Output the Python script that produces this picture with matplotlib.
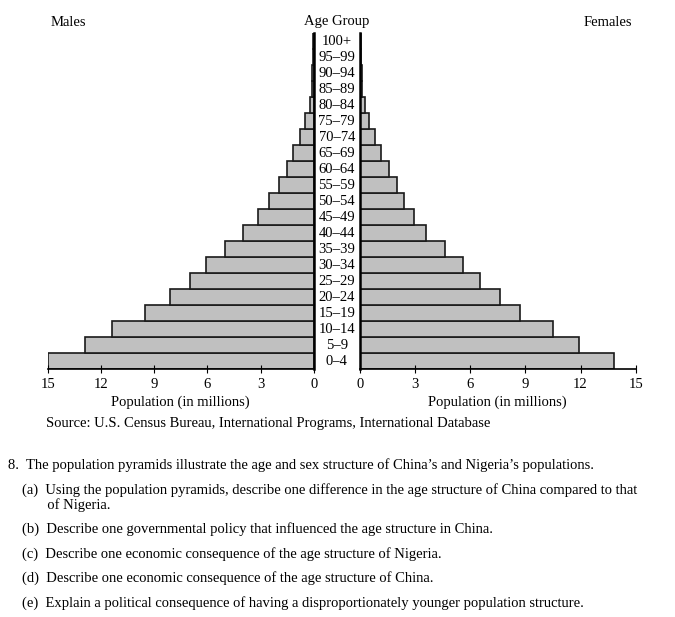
import matplotlib.pyplot as plt
from matplotlib.transforms import blended_transform_factory

plt.rcParams['font.family'] = ['Liberation Serif', 'DejaVu Serif']

# data (millions), youngest first
age_groups = ['0–4', '5–9', '10–14', '15–19', '20–24', '25–29', '30–34',
              '35–39', '40–44', '45–49', '50–54', '55–59', '60–64', '65–69',
              '70–74', '75–79', '80–84', '85–89', '90–94', '95–99', '100+']
males = [15.0, 12.9, 11.4, 9.5, 8.1, 7.0, 6.05, 5.0, 4.0, 3.15, 2.5, 1.95,
         1.5, 1.15, 0.76, 0.47, 0.21, 0.11, 0.08, 0.06, 0.03]
females = [13.8, 11.9, 10.5, 8.7, 7.6, 6.55, 5.6, 4.65, 3.6, 2.95, 2.4, 2.0,
           1.6, 1.15, 0.82, 0.52, 0.29, 0.12, 0.1, 0.08, 0.05]
ticks = [0, 3, 6, 9, 12, 15]

W, H = 675, 617
fig = plt.figure(figsize=(W / 100, H / 100), dpi=100)

def px_axes(x0, y0, x1, y1):
    return fig.add_axes([x0 / W, 1 - y1 / H, (x1 - x0) / W, (y1 - y0) / H])

ax_l = px_axes(47.7, 33.3, 313.7, 369.3)
ax_r = px_axes(359.7, 33.3, 635.7, 369.3)

ypos = list(range(len(age_groups)))
bar_kw = dict(height=1.0, color='#c0c0c0', edgecolor='#1a1a1a', linewidth=1.2)
ax_l.barh(ypos, males, **bar_kw)
ax_r.barh(ypos, females, **bar_kw)

ax_l.set_xlim(15, 0)
ax_r.set_xlim(0, 15)
for ax in (ax_l, ax_r):
    ax.set_ylim(-0.5, len(age_groups) - 0.5)
    ax.set_yticks([])
    ax.set_xticks(ticks)
    ax.tick_params(axis='x', direction='inout', length=6, width=0.8,
                   labelsize=10.5, pad=3.5)
    ax.spines['top'].set_visible(False)
    ax.set_xlabel('Population (in millions)', fontsize=10.5, labelpad=3)
    ax.patch.set_alpha(0)

ax_l.spines['left'].set_visible(False)
ax_l.spines['right'].set_linewidth(1.8)
ax_l.spines['bottom'].set_linewidth(1.2)
ax_r.spines['right'].set_visible(False)
ax_r.spines['left'].set_linewidth(1.8)
ax_r.spines['bottom'].set_linewidth(1.2)

# age labels in the gap between the two halves
tr = blended_transform_factory(fig.transFigure, ax_l.transData)
for y, lab in zip(ypos, age_groups):
    ax_l.text(336.7 / W, y, lab, transform=tr, ha='center', va='center',
              fontsize=10.5, clip_on=False)

fig.text(68 / W, 1 - 22 / H, 'Males', ha='center', va='center', fontsize=10.5)
fig.text(336.7 / W, 1 - 22 / H, 'Age Group', ha='center', va='center', fontsize=10.5)
fig.text(607.5 / W, 1 - 22 / H, 'Females', ha='center', va='center', fontsize=10.5)

fig.text(46 / W, 1 - 423 / H,
         'Source: U.S. Census Bureau, International Programs, International Database',
         ha='left', va='center', fontsize=10.5)

# question text below the chart
fig.text(8 / W, 1 - 465 / H,
         '8.  The population pyramids illustrate the age and sex structure of '
         'China\u2019s and Nigeria\u2019s populations.',
         ha='left', va='center', fontsize=10.5)
questions = [
    (490, '(a)  Using the population pyramids, describe one difference in the age '
          'structure of China compared to that'),
    (505, '       of Nigeria.'),
    (529, '(b)  Describe one governmental policy that influenced the age structure in China.'),
    (554, '(c)  Describe one economic consequence of the age structure of Nigeria.'),
    (578, '(d)  Describe one economic consequence of the age structure of China.'),
    (603, '(e)  Explain a political consequence of having a disproportionately '
          'younger population structure.'),
]
for y, txt in questions:
    fig.text(22 / W, 1 - y / H, txt, ha='left', va='center', fontsize=10.5)

fig.savefig('out.png', dpi=100)
